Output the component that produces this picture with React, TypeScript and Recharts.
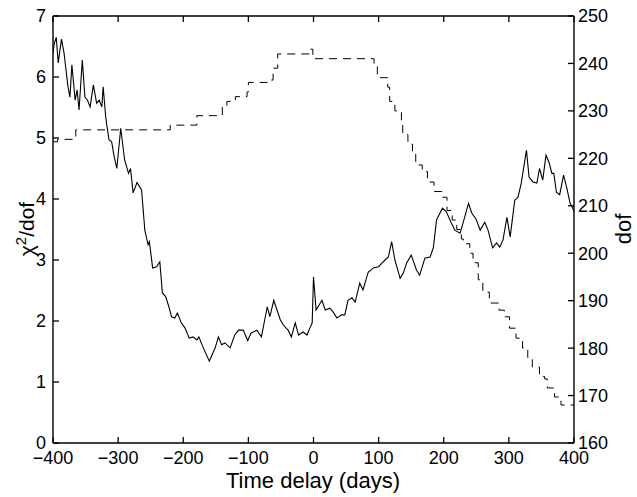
import { Label, Line, LineChart, ReferenceLine, XAxis, YAxis } from "recharts";

// chi^2/dof curve (solid)
const chiDays = [
  -400, -398, -395, -392, -387, -383, -377, -374, -371, -366, -363, -360, -355, -351, -347, -343,
  -338, -333, -329, -325, -323, -319, -317, -314, -310, -306, -302, -296, -290, -284, -281, -277,
  -271, -264, -259, -254, -252, -247, -241, -236, -232, -227, -222, -218, -213, -209, -203, -197,
  -191, -185, -179, -176, -170, -160, -151, -146, -141, -136, -128, -121, -115, -108, -101, -96,
  -87, -80, -74, -71, -67, -61, -56, -51, -46, -39, -34, -28, -23, -16, -10, -5, -2, 0, 4, 13, 18,
  25, 30, 36, 43, 48, 53, 59, 64, 71, 76, 84, 92, 100, 105, 110, 115, 120, 125, 133, 138, 143, 150,
  158, 163, 171, 179, 184, 189, 198, 204, 212, 217, 225, 230, 238, 243, 250, 256, 263, 268, 275,
  281, 286, 291, 297, 302, 309, 314, 319, 327, 331, 337, 343, 347, 352, 357, 362, 366, 369, 373,
  378, 384, 389, 394, 398, 400,
];
const chiValues = [
  6.4, 6.55, 6.65, 6.23, 6.62, 6.39, 5.84, 5.67, 6.2, 5.62, 5.79, 5.46, 6.28, 5.67, 5.62, 5.51,
  5.87, 5.57, 5.62, 5.51, 5.84, 5.34, 5.18, 4.97, 4.94, 4.69, 4.5, 5.16, 4.64, 4.42, 4.5, 4.1,
  4.27, 4.15, 3.49, 3.25, 3.3, 2.87, 2.89, 2.97, 2.46, 2.4, 2.23, 2.07, 2.05, 2.13, 1.97, 1.88,
  1.72, 1.74, 1.69, 1.74, 1.58, 1.34, 1.56, 1.74, 1.61, 1.64, 1.56, 1.77, 1.85, 1.85, 1.68, 1.8,
  1.85, 1.74, 2.07, 2.23, 2.07, 2.34, 2.18, 2.02, 1.93, 1.85, 1.74, 1.97, 1.77, 1.82, 1.77, 1.9,
  1.97, 2.72, 2.18, 2.34, 2.18, 2.21, 2.15, 2.05, 2.1, 2.1, 2.34, 2.38, 2.31, 2.62, 2.51, 2.8,
  2.87, 2.89, 2.95, 3.0, 3.05, 3.3, 3.0, 2.7, 2.79, 2.95, 3.08, 2.84, 2.75, 3.03, 3.05, 3.2, 3.66,
  3.85, 3.79, 3.6, 3.49, 3.44, 3.62, 3.93, 3.77, 3.66, 3.49, 3.62, 3.49, 3.2, 3.28, 3.21, 3.33,
  3.7, 3.38, 3.98, 4.03, 4.26, 4.8, 4.36, 4.28, 4.26, 4.5, 4.31, 4.72, 4.59, 4.42, 4.42, 4.11,
  4.07, 4.39, 4.18, 3.93, 3.85, 3.8,
];

// dof (dashed, right axis), drawn as steps
const dofDays = [
  -400, -393, -365, -220, -179, -140, -133, -120, -102, -100, -71, -62, -55, -5, -1, 93, 98, 114,
  117, 125, 135, 137, 145, 152, 157, 167, 175, 185, 198, 205, 213, 220, 227, 230, 240, 245, 253,
  260, 270, 285, 293, 301, 311, 321, 329, 336, 347, 355, 359, 370, 380, 400,
];
const dofValues = [
  223.5, 224, 226, 227, 229, 231, 232, 233, 234, 236, 236.5, 239, 242, 243, 241, 240, 237, 235,
  232, 230, 227.7, 225, 223, 221, 218.6, 217.2, 215, 213, 211.8, 209, 207, 205, 203, 202, 200, 198,
  194.4, 191.8, 189.5, 188, 186.6, 184.2, 182.1, 180, 178, 176, 174, 173.5, 171.6, 169.7, 168, 168,
];

const xTicks = [-400, -300, -200, -100, 0, 100, 200, 300, 400];
const chiTicks = [0, 1, 2, 3, 4, 5, 6, 7];
const dofTicks = [160, 170, 180, 190, 200, 210, 220, 230, 240, 250];

const chiData = chiDays.map((day, i) => ({ day, chi: chiValues[i] }));
const dofData = dofDays.map((day, i) => ({ day, dof: dofValues[i] }));

// plot frame
const LEFT = 53;
const RIGHT = 574;
const TOP = 16;
const BOTTOM = 443;
const TICK = 6;

const font = "'Liberation Sans', Arial, Helvetica, sans-serif";
const minus = (v: number) => String(v).replace("-", "\u2212");

// tick marks point into the plot, MATLAB style; bottom ticks also mark the top edge
const BottomTick = (p: any) => (
  <g>
    <path d={`M${p.x},${BOTTOM}v${-TICK}M${p.x},${TOP}v${TICK}`} stroke="#000" strokeWidth={1.3} fill="none" />
    <text x={p.x} y={464} textAnchor="middle" fontSize={18} fontFamily={font} fill="#000">
      {minus(p.payload.value)}
    </text>
  </g>
);

const LeftTick = (p: any) => (
  <g>
    <path d={`M${LEFT},${p.y}h${TICK}`} stroke="#000" strokeWidth={1.3} fill="none" />
    <text x={LEFT - 7} y={p.y} dy="0.36em" textAnchor="end" fontSize={18} fontFamily={font} fill="#000">
      {p.payload.value}
    </text>
  </g>
);

const RightTick = (p: any) => (
  <g>
    <path d={`M${RIGHT},${p.y}h${-TICK}`} stroke="#000" strokeWidth={1.3} fill="none" />
    <text x={RIGHT + 4} y={p.y} dy="0.36em" textAnchor="start" fontSize={18} fontFamily={font} fill="#000">
      {p.payload.value}
    </text>
  </g>
);

export default function App() {
  return (
    <div style={{ position: "fixed", left: 0, top: 0, background: "#fff" }}>
      <LineChart width={637} height={497} margin={{ top: TOP, right: 0, bottom: 0, left: 0 }}>
        <XAxis
          dataKey="day"
          type="number"
          domain={[-400, 400]}
          ticks={xTicks}
          allowDataOverflow
          height={54}
          stroke="#000"
          strokeWidth={1.4}
          tickLine={false}
          tick={<BottomTick />}
        >
          <Label
            content={() => (
              <text x={313} y={488} textAnchor="middle" fontSize={22} fontFamily={font} fill="#000">
                Time delay (days)
              </text>
            )}
          />
        </XAxis>
        <YAxis
          yAxisId="left"
          domain={[0, 7]}
          ticks={chiTicks}
          width={LEFT}
          stroke="#000"
          strokeWidth={1.4}
          tickLine={false}
          tick={<LeftTick />}
        >
          <Label
            content={() => (
              <text
                x={34}
                y={229}
                transform="rotate(-90 34 229)"
                textAnchor="middle"
                fontSize={21}
                fontFamily={font}
                fill="#000"
              >
                χ<tspan dy={-8} fontSize={15}>2</tspan>
                <tspan dy={8}>/dof</tspan>
              </text>
            )}
          />
        </YAxis>
        <YAxis
          yAxisId="right"
          orientation="right"
          domain={[160, 250]}
          ticks={dofTicks}
          width={637 - RIGHT}
          stroke="#000"
          strokeWidth={1.4}
          tickLine={false}
          tick={<RightTick />}
        >
          <Label
            content={() => (
              <text
                x={631}
                y={229}
                transform="rotate(-90 631 229)"
                textAnchor="middle"
                fontSize={22}
                fontFamily={font}
                fill="#000"
              >
                dof
              </text>
            )}
          />
        </YAxis>
        {/* top edge of the box */}
        <ReferenceLine yAxisId="left" y={7} stroke="#000" strokeWidth={1.4} />
        <Line
          data={dofData}
          yAxisId="right"
          dataKey="dof"
          type="stepAfter"
          stroke="#000"
          strokeWidth={1}
          strokeDasharray="8 6"
          dot={false}
          isAnimationActive={false}
        />
        <Line
          data={chiData}
          yAxisId="left"
          dataKey="chi"
          type="linear"
          stroke="#000"
          strokeWidth={1.1}
          dot={false}
          isAnimationActive={false}
        />
      </LineChart>
    </div>
  );
}
